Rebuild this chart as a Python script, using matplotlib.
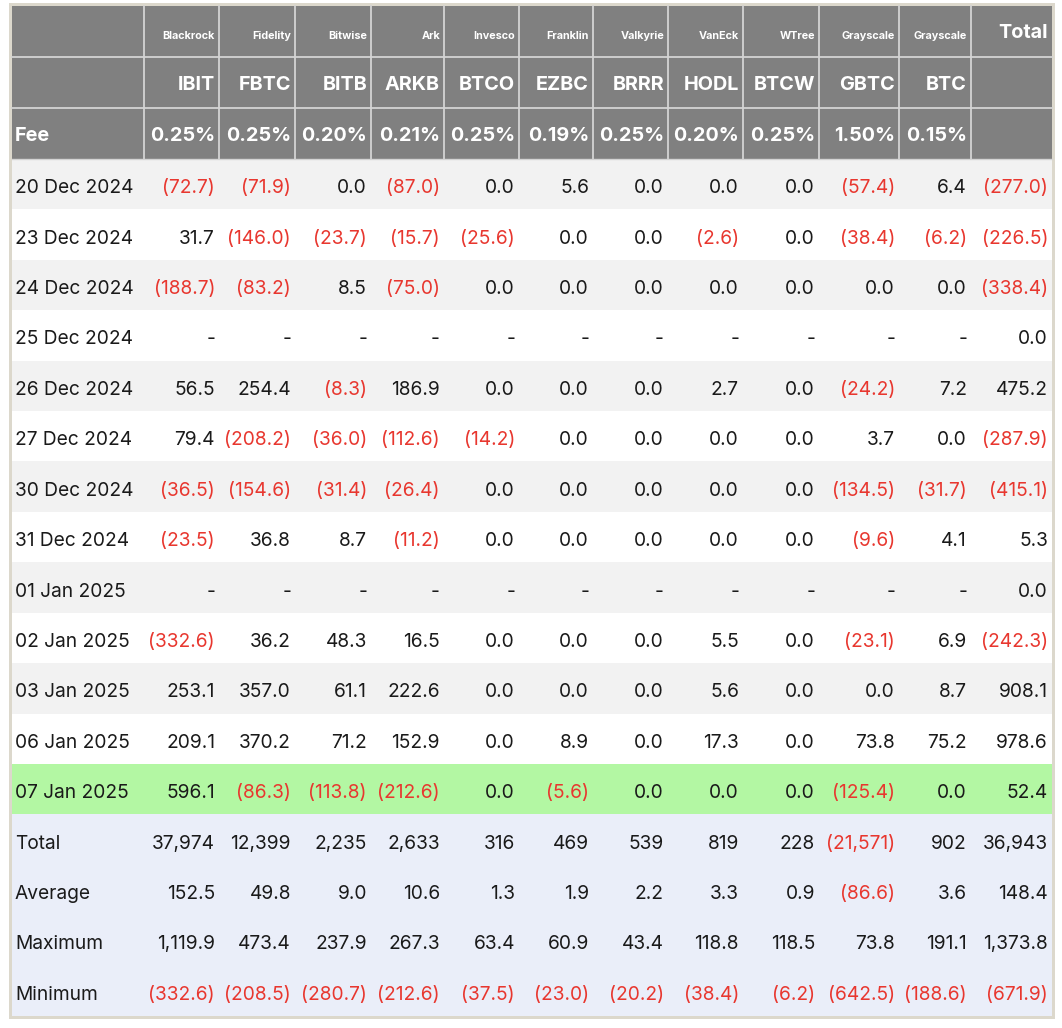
import matplotlib
matplotlib.use("Agg")
import matplotlib.pyplot as plt
from matplotlib.patches import Rectangle

companies = ["Blackrock", "Fidelity", "Bitwise", "Ark", "Invesco", "Franklin",
             "Valkyrie", "VanEck", "WTree", "Grayscale", "Grayscale"]
tickers = ["IBIT", "FBTC", "BITB", "ARKB", "BTCO", "EZBC", "BRRR", "HODL",
           "BTCW", "GBTC", "BTC"]
fees = ["0.25%", "0.25%", "0.20%", "0.21%", "0.25%", "0.19%", "0.25%",
        "0.20%", "0.25%", "1.50%", "0.15%"]

dates = ["20 Dec 2024", "23 Dec 2024", "24 Dec 2024", "25 Dec 2024",
         "26 Dec 2024", "27 Dec 2024", "30 Dec 2024", "31 Dec 2024",
         "01 Jan 2025", "02 Jan 2025", "03 Jan 2025", "06 Jan 2025",
         "07 Jan 2025"]

# None = no trading ("-"); last value in each row = Total
flows = [
    [-72.7, -71.9, 0.0, -87.0, 0.0, 5.6, 0.0, 0.0, 0.0, -57.4, 6.4, -277.0],
    [31.7, -146.0, -23.7, -15.7, -25.6, 0.0, 0.0, -2.6, 0.0, -38.4, -6.2, -226.5],
    [-188.7, -83.2, 8.5, -75.0, 0.0, 0.0, 0.0, 0.0, 0.0, 0.0, 0.0, -338.4],
    [None] * 11 + [0.0],
    [56.5, 254.4, -8.3, 186.9, 0.0, 0.0, 0.0, 2.7, 0.0, -24.2, 7.2, 475.2],
    [79.4, -208.2, -36.0, -112.6, -14.2, 0.0, 0.0, 0.0, 0.0, 3.7, 0.0, -287.9],
    [-36.5, -154.6, -31.4, -26.4, 0.0, 0.0, 0.0, 0.0, 0.0, -134.5, -31.7, -415.1],
    [-23.5, 36.8, 8.7, -11.2, 0.0, 0.0, 0.0, 0.0, 0.0, -9.6, 4.1, 5.3],
    [None] * 11 + [0.0],
    [-332.6, 36.2, 48.3, 16.5, 0.0, 0.0, 0.0, 5.5, 0.0, -23.1, 6.9, -242.3],
    [253.1, 357.0, 61.1, 222.6, 0.0, 0.0, 0.0, 5.6, 0.0, 0.0, 8.7, 908.1],
    [209.1, 370.2, 71.2, 152.9, 0.0, 8.9, 0.0, 17.3, 0.0, 73.8, 75.2, 978.6],
    [596.1, -86.3, -113.8, -212.6, 0.0, -5.6, 0.0, 0.0, 0.0, -125.4, 0.0, 52.4],
]

summary_labels = ["Total", "Average", "Maximum", "Minimum"]
total_row = [37974, 12399, 2235, 2633, 316, 469, 539, 819, 228, -21571, 902, 36943]
average_row = [152.5, 49.8, 9.0, 10.6, 1.3, 1.9, 2.2, 3.3, 0.9, -86.6, 3.6, 148.4]
maximum_row = [1119.9, 473.4, 237.9, 267.3, 63.4, 60.9, 43.4, 118.8, 118.5, 73.8, 191.1, 1373.8]
minimum_row = [-332.6, -208.5, -280.7, -212.6, -37.5, -23.0, -20.2, -38.4, -6.2, -642.5, -188.6, -671.9]

# ---------------- layout ----------------
W, H = 1062, 1028
col_edges = [12, 144, 219, 295, 371, 444, 519, 593, 668, 743, 819, 899, 971, 1052]
top = 6
head_h = 51
body_top = top + 3 * head_h
body_bottom = 1016
n_body = len(dates) + len(summary_labels)
row_h = (body_bottom - body_top) / n_body

FONT = ["Inter", "DejaVu Sans"]
RED = "#e8372f"
DARK = "#1a1a1a"
HEAD = "#808080"
GRID = "#d4d4d4"
GRAY_ROW = "#f2f2f2"
GREEN_ROW = "#b3f7a3"
SUM_ROW = "#eaeef9"
FRAME = "#dcd8cc"

fig = plt.figure(figsize=(W / 100, H / 100), dpi=100)
ax = fig.add_axes([0, 0, 1, 1])
ax.set_xlim(0, W)
ax.set_ylim(H, 0)
ax.axis("off")

# frame
ax.add_patch(Rectangle((col_edges[0] - 3, top - 3), col_edges[-1] - col_edges[0] + 6,
                       body_bottom - top + 6, facecolor=FRAME, edgecolor="none", zorder=0))

# header background
ax.add_patch(Rectangle((col_edges[0], top), col_edges[-1] - col_edges[0], 3 * head_h,
                       facecolor=HEAD, edgecolor="none", zorder=1))
# header grid
for i in range(1, 3):
    y = top + i * head_h
    ax.plot([col_edges[0], col_edges[-1]], [y, y], color=GRID, lw=1.3, zorder=2)
ax.plot([col_edges[0], col_edges[-1]], [body_top, body_top], color=GRID, lw=1.0, zorder=2)
for x in col_edges[1:-1]:
    ax.plot([x, x], [top, body_top], color=GRID, lw=1.3, zorder=2)


def fmt(v, integer=False):
    if v is None:
        return "-", DARK
    s = f"{abs(v):,.0f}" if integer else f"{abs(v):,.1f}"
    if v < 0:
        return f"({s})", RED
    return s, DARK


pad = 4
fs = 13.8
hfs = 14.3

# header row 1: companies
for j, c in enumerate(companies):
    ax.text(col_edges[j + 2] - pad, top + head_h * 0.59, c, ha="right", va="center",
            fontsize=7.8, fontweight="bold", color="white", family=FONT, zorder=3)
ax.text(col_edges[-1] - pad, top + head_h * 0.53, "Total", ha="right", va="center",
        fontsize=hfs, fontweight="bold", color="white", family=FONT, zorder=3)
# header row 2: tickers
for j, t in enumerate(tickers):
    ax.text(col_edges[j + 2] - pad, top + head_h * 1.55, t, ha="right", va="center",
            fontsize=hfs, fontweight="bold", color="white", family=FONT, zorder=3)
# header row 3: fees
ax.text(col_edges[0] + 3, top + head_h * 2.55, "Fee", ha="left", va="center",
        fontsize=hfs, fontweight="bold", color="white", family=FONT, zorder=3)
for j, f in enumerate(fees):
    ax.text(col_edges[j + 2] - pad, top + head_h * 2.55, f, ha="right", va="center",
            fontsize=hfs, fontweight="bold", color="white", family=FONT, zorder=3)

# body
rows = [(d, r, False) for d, r in zip(dates, flows)]
rows += [(summary_labels[0], total_row, True), (summary_labels[1], average_row, False),
         (summary_labels[2], maximum_row, False), (summary_labels[3], minimum_row, False)]

for i, (label, vals, integer) in enumerate(rows):
    y0 = body_top + i * row_h
    if i >= len(dates):
        bg = SUM_ROW
    elif i == len(dates) - 1:
        bg = GREEN_ROW
    elif i % 2 == 0:
        bg = GRAY_ROW
    else:
        bg = "white"
    ax.add_patch(Rectangle((col_edges[0], y0), col_edges[-1] - col_edges[0], row_h,
                           facecolor=bg, edgecolor="none", zorder=1))
    yc = y0 + row_h * 0.58
    ax.text(col_edges[0] + 3, yc, label, ha="left", va="center", fontsize=fs,
            color=DARK, family=FONT, zorder=3)
    for j, v in enumerate(vals):
        s, col = fmt(v, integer)
        ax.text(col_edges[j + 2] - pad, yc, s, ha="right", va="center", fontsize=fs,
                color=col, family=FONT, zorder=3)

fig.savefig("out.png", dpi=100, facecolor="white")
